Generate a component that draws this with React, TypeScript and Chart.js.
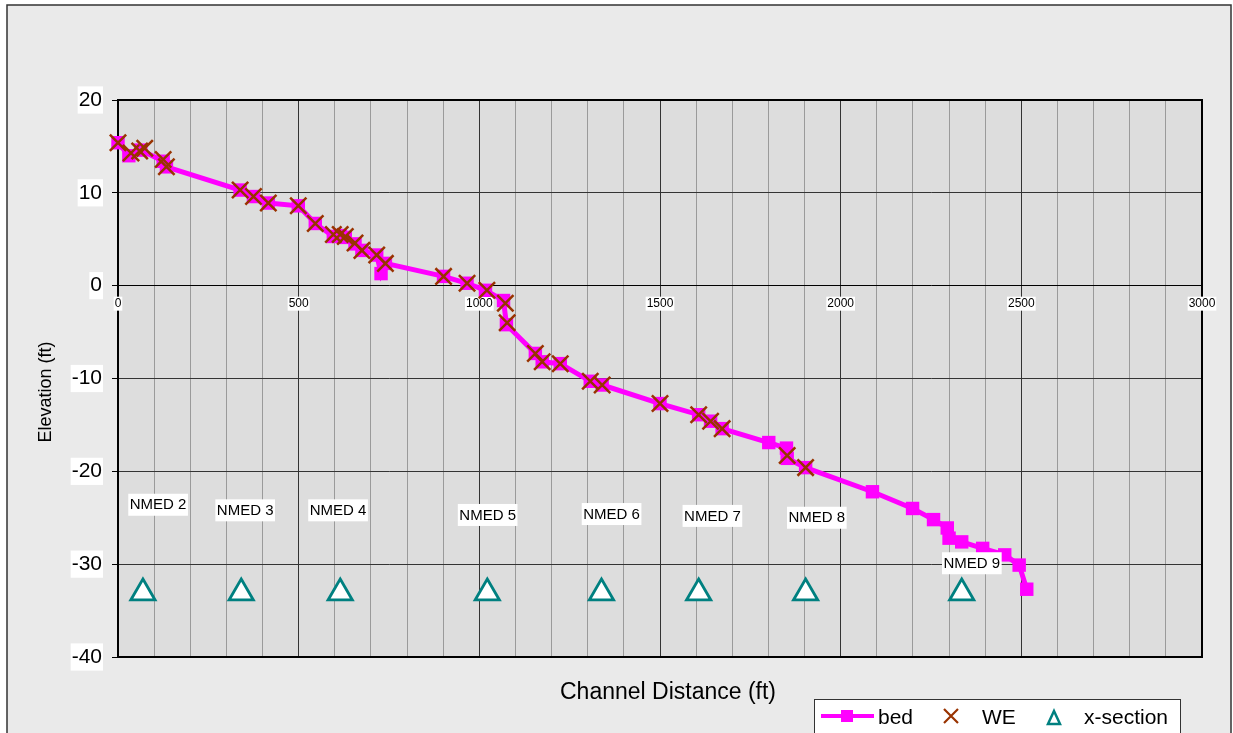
import React, { useEffect, useRef } from 'react';
import { Chart, registerables } from 'chart.js';

Chart.register(...registerables);

// ---- data ----
const bedX = [0, 30, 63, 125, 134, 338, 375, 416, 499, 546, 596, 615, 629, 656, 675, 716, 728, 740, 901, 966, 1017, 1067, 1075, 1155, 1174, 1224, 1307, 1340, 1500, 1607, 1640, 1672, 1801, 1850, 1852, 1903, 2088, 2199, 2257, 2295, 2300, 2335, 2393, 2454, 2494, 2515];
const bedY = [15.4, 14.0, 14.6, 13.4, 12.8, 10.3, 9.6, 8.9, 8.6, 6.7, 5.3, 5.4, 5.2, 4.5, 3.8, 3.3, 1.3, 2.4, 1.0, 0.26, -0.5, -1.6, -4.2, -7.3, -8.2, -8.4, -10.3, -10.7, -12.7, -13.9, -14.6, -15.4, -16.9, -17.5, -18.6, -19.6, -22.2, -24.0, -25.2, -26.1, -27.2, -27.6, -28.3, -29.0, -30.1, -32.7];

const weX = [0, 36, 60, 74, 125, 134, 338, 375, 416, 499, 546, 596, 615, 629, 656, 675, 716, 740, 901, 966, 1021, 1072, 1077, 1155, 1174, 1224, 1307, 1340, 1500, 1607, 1640, 1672, 1852, 1903];
const weY = [15.4, 14.3, 14.5, 14.8, 13.6, 12.8, 10.3, 9.6, 8.9, 8.6, 6.7, 5.5, 5.5, 5.3, 4.6, 3.8, 3.3, 2.4, 1.0, 0.26, -0.5, -1.9, -4.0, -7.3, -8.2, -8.4, -10.3, -10.7, -12.7, -13.9, -14.6, -15.4, -18.3, -19.6];

const xsecX = [69, 341, 615, 1022, 1338, 1607, 1903, 2335];
const xsecY = [-33.1, -33.1, -33.1, -33.1, -33.1, -33.1, -33.1, -33.1];

const labelNames = ['NMED 2', 'NMED 3', 'NMED 4', 'NMED 5', 'NMED 6', 'NMED 7', 'NMED 8', 'NMED 9'];
const labelX = [111, 352, 609, 1023, 1366, 1645, 1934, 2363];
const labelY = [-23.6, -24.2, -24.2, -24.7, -24.6, -24.8, -25.0, -29.9];

const xTickLabels = [0, 500, 1000, 1500, 2000, 2500, 3000];
const yMin = -40;
const yMax = 20;

const seriesNames = ['bed', 'WE', 'x-section'];
const xTitle = 'Channel Distance (ft)';
const yTitle = 'Elevation (ft)';

const FONT = "'Liberation Sans', Arial, Helvetica, sans-serif";

export default function App() {
  const ref = useRef<HTMLCanvasElement>(null);

  useEffect(() => {
    const canvas = ref.current;
    if (!canvas) return;

    const deco = {
      id: 'deco',
      beforeDraw(chart: any) {
        const { ctx, chartArea: a } = chart;
        ctx.save();
        ctx.fillStyle = '#ffffff';
        ctx.fillRect(0, 0, chart.width, chart.height);
        ctx.fillStyle = '#EAEAEA';
        ctx.fillRect(7, 5, 1224, 760);
        ctx.strokeStyle = '#333';
        ctx.lineWidth = 1.5;
        ctx.strokeRect(7, 5, 1224, 760);
        ctx.fillStyle = '#DDDDDD';
        ctx.fillRect(a.left, a.top, a.right - a.left, a.bottom - a.top);
        ctx.restore();
      },
      beforeDatasetsDraw(chart: any) {
        const { ctx, chartArea: a, scales } = chart;
        ctx.save();
        ctx.strokeStyle = '#000';
        ctx.lineWidth = 2;
        ctx.strokeRect(a.left, a.top, a.right - a.left, a.bottom - a.top);
        const y0 = scales.y.getPixelForValue(0);
        ctx.font = `12px ${FONT}`;
        ctx.textAlign = 'center';
        ctx.textBaseline = 'middle';
        xTickLabels.forEach((v) => {
          const px = scales.x.getPixelForValue(v);
          const t = String(v);
          const w = ctx.measureText(t).width;
          ctx.fillStyle = '#fff';
          ctx.fillRect(px - w / 2 - 1, y0 + 11, w + 2, 14);
          ctx.fillStyle = '#000';
          ctx.fillText(t, px, y0 + 18);
        });
        // axis titles
        ctx.fillStyle = '#000';
        ctx.font = `23px ${FONT}`;
        ctx.fillText(xTitle, 668, 693);
        ctx.save();
        ctx.translate(46, 392);
        ctx.rotate(-Math.PI / 2);
        ctx.font = `18px ${FONT}`;
        ctx.fillText(yTitle, 0, 0);
        ctx.restore();
        ctx.restore();
      },
      afterDraw(chart: any) {
        const { ctx, scales } = chart;
        ctx.save();
        // NMED labels
        ctx.font = `15px ${FONT}`;
        ctx.textAlign = 'center';
        ctx.textBaseline = 'middle';
        labelNames.forEach((t, i) => {
          const px = scales.x.getPixelForValue(labelX[i]);
          const py = scales.y.getPixelForValue(labelY[i]);
          const w = ctx.measureText(t).width;
          ctx.fillStyle = '#fff';
          ctx.fillRect(px - w / 2 - 1.5, py - 11, w + 3, 22);
          ctx.fillStyle = '#000';
          ctx.fillText(t, px, py + 0.5);
        });

        // legend
        ctx.fillStyle = '#fff';
        ctx.fillRect(814, 699, 366, 60);
        ctx.strokeStyle = '#333';
        ctx.lineWidth = 1;
        ctx.strokeRect(814.5, 699.5, 366, 60);

        const ly = 716;
        ctx.strokeStyle = '#FF00FF';
        ctx.lineWidth = 4;
        ctx.beginPath();
        ctx.moveTo(821, ly);
        ctx.lineTo(874, ly);
        ctx.stroke();
        ctx.fillStyle = '#FF00FF';
        ctx.fillRect(841, ly - 6, 12, 12);

        ctx.font = `21px ${FONT}`;
        ctx.textAlign = 'left';
        ctx.textBaseline = 'middle';
        ctx.fillStyle = '#000';
        ctx.fillText(seriesNames[0], 878, ly + 2);

        ctx.strokeStyle = '#993300';
        ctx.lineWidth = 2.2;
        ctx.beginPath();
        ctx.moveTo(944, ly - 7);
        ctx.lineTo(958, ly + 7);
        ctx.moveTo(958, ly - 7);
        ctx.lineTo(944, ly + 7);
        ctx.stroke();
        ctx.fillStyle = '#000';
        ctx.fillText(seriesNames[1], 982, ly + 2);

        ctx.strokeStyle = '#008080';
        ctx.lineWidth = 2.5;
        ctx.fillStyle = '#fff';
        ctx.beginPath();
        ctx.moveTo(1054, ly - 5);
        ctx.lineTo(1060, ly + 8);
        ctx.lineTo(1048, ly + 8);
        ctx.closePath();
        ctx.fill();
        ctx.stroke();
        ctx.fillStyle = '#000';
        ctx.fillText(seriesNames[2], 1084, ly + 2);
        ctx.restore();
      },
    };

    const chart = new Chart(canvas, {
      type: 'scatter',
      data: {
        datasets: [
          {
            label: seriesNames[0],
            data: bedX.map((x, i) => ({ x, y: bedY[i] })),
            showLine: true,
            borderColor: '#FF00FF',
            borderWidth: 5,
            pointStyle: 'rect',
            pointRadius: 9.5,
            pointBackgroundColor: '#FF00FF',
            pointBorderColor: '#FF00FF',
            pointBorderWidth: 0,
            clip: false,
            order: 2,
          } as any,
          {
            label: seriesNames[1],
            data: weX.map((x, i) => ({ x, y: weY[i] })),
            showLine: false,
            pointStyle: 'crossRot',
            pointRadius: 11.5,
            pointBorderColor: '#993300',
            pointBorderWidth: 2.5,
            clip: false,
            order: 1,
          } as any,
          {
            label: seriesNames[2],
            data: xsecX.map((x, i) => ({ x, y: xsecY[i] })),
            showLine: false,
            pointStyle: 'triangle',
            pointRadius: 14,
            pointBackgroundColor: '#ffffff',
            pointBorderColor: '#008080',
            pointBorderWidth: 2.8,
            clip: false,
            order: 0,
          } as any,
        ],
      },
      options: {
        responsive: false,
        animation: false,
        devicePixelRatio: 1,
        layout: { padding: { left: 0, right: 31, top: 100, bottom: 0 } },
        plugins: {
          legend: { display: false },
          tooltip: { enabled: false },
        },
        scales: {
          x: {
            type: 'linear',
            position: 'bottom',
            min: 0,
            max: 3000,
            ticks: { stepSize: 100, display: false },
            grid: {
              color: (c: any) => (c.tick && c.tick.value % 500 === 0 ? '#333333' : '#9a9a9a'),
              lineWidth: 1,
              drawTicks: false,
            },
            border: { display: true, color: '#000', width: 2 },
            title: { display: false },
            afterFit(s: any) {
              s.height = 76;
            },
          },
          y: {
            type: 'linear',
            min: yMin,
            max: yMax,
            ticks: {
              stepSize: 10,
              color: '#000',
              font: { size: 21, family: FONT },
              padding: 10,
              showLabelBackdrop: true,
              backdropColor: '#ffffff',
              backdropPadding: 1,
            } as any,
            grid: {
              color: (c: any) => (c.tick && c.tick.value === 0 ? '#000000' : '#333333'),
              lineWidth: 1,
              tickLength: 6,
              tickColor: '#000',
            },
            border: { display: true, color: '#000', width: 2 },
            title: { display: false },
            afterFit(s: any) {
              s.width = 118;
            },
          },
        },
      } as any,
      plugins: [deco],
    });

    return () => chart.destroy();
  }, []);

  return (
    <div style={{ position: 'absolute', left: 0, top: 0, width: 1233, height: 733, overflow: 'hidden' }}>
      <canvas ref={ref} width={1233} height={733} style={{ display: 'block', width: 1233, height: 733 }} />
    </div>
  );
}
